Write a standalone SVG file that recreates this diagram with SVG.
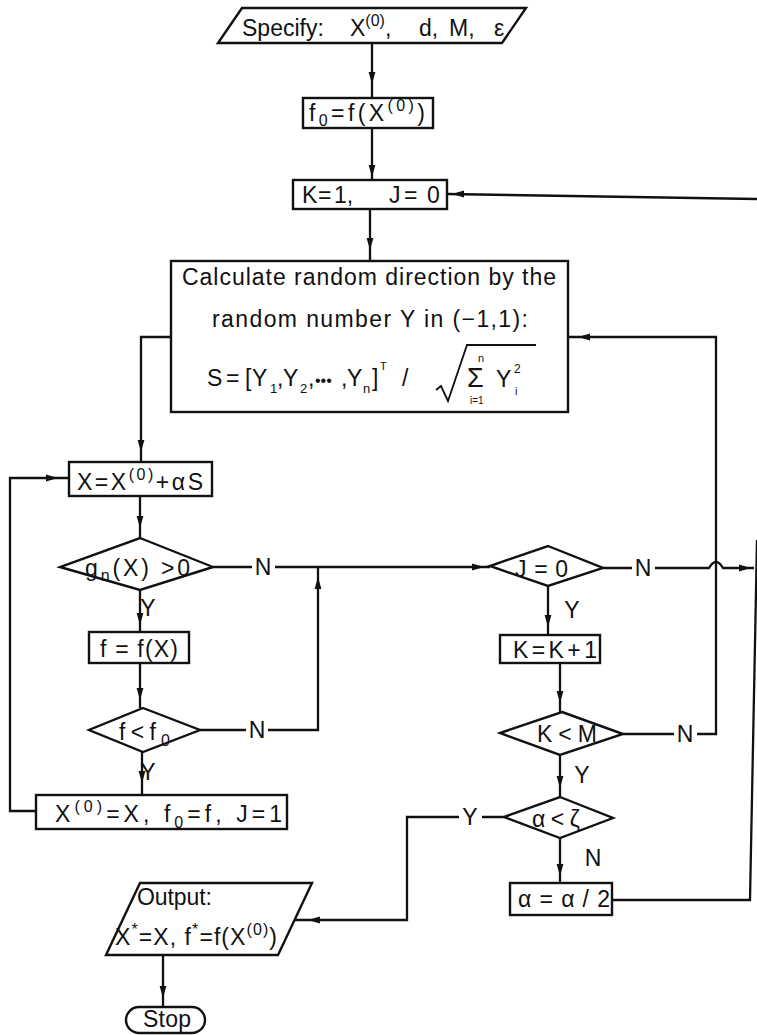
<svg xmlns="http://www.w3.org/2000/svg" width="757" height="1035" viewBox="0 0 757 1035">
<style>
.n{fill:#fff;stroke:#111;stroke-width:2.4;stroke-linejoin:miter}
.c{fill:none;stroke:#111;stroke-width:2.3}
text{font-family:"Liberation Sans",Arial,sans-serif;font-size:23px;fill:#111}
.s{font-size:16px}
.m{text-anchor:middle}
.ah{fill:#111}
</style>
<defs>
<path id="ah" d="M0,0 L-12,-3.4 L-12,3.4 Z"/>
</defs>
<rect width="757" height="1035" fill="#fff"/>

<g id="connectors">
<path class="c" d="M372,43 V98"/>
<path class="c" d="M372,128 V180"/>
<path class="c" d="M370,209 V261"/>
<path class="c" d="M172,337 H141 V462"/>
<path class="c" d="M140,496 V538"/>
<path class="c" d="M140,590 V632"/>
<path class="c" d="M140,663 V708"/>
<path class="c" d="M142,752 V795"/>
<path class="c" d="M36,811 H10 V478 H69"/>
<path class="c" d="M213,567 H252 M275,567 H490"/>
<path class="c" d="M200,730 H246 M268,730 H318 V567"/>
<path class="c" d="M603,568 H632 M655,568 H709 Q716,556 723,568 H754"/>
<path class="c" d="M548,586 V635"/>
<path class="c" d="M560,663 V712"/>
<path class="c" d="M560,755 V797"/>
<path class="c" d="M560,838 V883"/>
<path class="c" d="M623,734 H674 M697,734 H716 V337 H568"/>
<path class="c" d="M504,817 H482 M459,817 H407 V920 H295"/>
<path class="c" d="M612,900 H750 L757,540"/>
<path class="c" d="M757,199 L447,194"/>
<path class="c" d="M163,955 V1007"/>
<use href="#ah" class="ah" transform="translate(372,84) rotate(90)"/>
<use href="#ah" class="ah" transform="translate(372,177) rotate(90)"/>
<use href="#ah" class="ah" transform="translate(370,250) rotate(90)"/>
<use href="#ah" class="ah" transform="translate(141,452) rotate(90)"/>
<use href="#ah" class="ah" transform="translate(58,478)"/>
<use href="#ah" class="ah" transform="translate(140,528) rotate(90)"/>
<use href="#ah" class="ah" transform="translate(140,625) rotate(90)"/>
<use href="#ah" class="ah" transform="translate(140,700) rotate(90)"/>
<use href="#ah" class="ah" transform="translate(142,783) rotate(90)"/>
<use href="#ah" class="ah" transform="translate(318,577) rotate(-90)"/>
<use href="#ah" class="ah" transform="translate(484,567)"/>
<use href="#ah" class="ah" transform="translate(548,627) rotate(90)"/>
<use href="#ah" class="ah" transform="translate(560,703) rotate(90)"/>
<use href="#ah" class="ah" transform="translate(560,788) rotate(90)"/>
<use href="#ah" class="ah" transform="translate(560,876) rotate(90)"/>
<use href="#ah" class="ah" transform="translate(578,337) rotate(180)"/>
<use href="#ah" class="ah" transform="translate(751,568)"/>
<use href="#ah" class="ah" transform="translate(452,194) rotate(180)"/>
<use href="#ah" class="ah" transform="translate(308,920) rotate(180)"/>
<use href="#ah" class="ah" transform="translate(163,998) rotate(90)"/>
</g>

<g id="labels">
<text class="m" x="263" y="575">N</text>
<text class="m" x="257" y="738">N</text>
<text class="m" x="148" y="616">Y</text>
<text class="m" x="148" y="780">Y</text>
<text class="m" x="643" y="576">N</text>
<text class="m" x="572" y="618">Y</text>
<text class="m" x="685" y="742">N</text>
<text class="m" x="582" y="783">Y</text>
<text class="m" x="470" y="825">Y</text>
<text class="m" x="593" y="866">N</text>
</g>

<g id="specify">
<polygon class="n" points="242,8 526,8 502,43 218,43"/>
<text y="36"><tspan x="242">Specify:</tspan><tspan x="350">X</tspan><tspan class="s" dy="-10">(0)</tspan><tspan dy="10">,</tspan><tspan x="419">d,</tspan><tspan x="449">M,</tspan><tspan x="494">ε</tspan></text>
</g>

<g id="f0">
<rect class="n" x="303" y="98" width="130" height="30"/>
<text x="309" y="121" textLength="116" lengthAdjust="spacing">f<tspan class="s" dy="5">0</tspan><tspan dy="-5">=f(X</tspan><tspan class="s" dy="-10">(0)</tspan><tspan dy="10">)</tspan></text>
</g>

<g id="init">
<rect class="n" x="293" y="180" width="154" height="29"/>
<text y="203"><tspan x="302">K</tspan><tspan x="318">=</tspan><tspan x="334">1,</tspan><tspan x="389">J</tspan><tspan x="404">=</tspan><tspan x="427">0</tspan></text>
</g>

<g id="calc">
<rect class="n" x="171" y="261" width="397" height="151"/>
<text x="182" y="285" textLength="374" lengthAdjust="spacing">Calculate random direction by the</text>
<text x="212" y="327" textLength="316" lengthAdjust="spacing">random number Y in (−1,1):</text>
<text y="386"><tspan x="207">S</tspan><tspan x="226">=</tspan><tspan x="245">[</tspan><tspan x="252">Y</tspan></text>
<text x="270" y="393" style="font-size:13px">1</text>
<text x="277" y="386">,</text>
<text x="283" y="386">Y</text>
<text x="300" y="393" style="font-size:13px">2</text>
<text x="308" y="386">,</text>
<text x="315" y="386" style="font-size:16px">•••</text>
<text x="341" y="386">,</text>
<text x="347" y="386">Y</text>
<text x="363" y="393" style="font-size:13px">n</text>
<text x="372" y="386">]</text>
<text x="380" y="370" style="font-size:11px">T</text>
<text x="402" y="386">/</text>
<path d="M436,390 L441,386 L448,401 L467,345 H536" fill="none" stroke="#111" stroke-width="1.8"/>
<text x="478" y="362" style="font-size:11px">n</text>
<text x="467" y="387" style="font-size:27px">Σ</text>
<text x="470" y="404" style="font-size:10px">i=1</text>
<text x="496" y="387">Y</text>
<text x="514" y="373" style="font-size:12px">2</text>
<text x="515" y="395" style="font-size:11px">i</text>
</g>

<g id="xstep">
<rect class="n" x="69" y="462" width="143" height="34"/>
<text x="77" y="490" textLength="126" lengthAdjust="spacing">X=X<tspan class="s" dy="-10">(0)</tspan><tspan dy="10">+αS</tspan></text>
</g>

<g id="gcheck">
<polygon class="n" points="140,538 213,567 140,590 60,567"/>
<text x="85" y="576" textLength="105" lengthAdjust="spacing">g<tspan class="s" dy="5">n</tspan><tspan dy="-5">(X) &gt;0</tspan></text>
</g>

<g id="feval">
<rect class="n" x="89" y="632" width="100" height="31"/>
<text x="100" y="657" textLength="78" lengthAdjust="spacing">f = f(X)</text>
</g>

<g id="fcheck">
<polygon class="n" points="143,708 200,730 143,752 89,730"/>
<text x="119" y="740" textLength="51" lengthAdjust="spacing">f&lt;f<tspan class="s" dy="6">0</tspan></text>
</g>

<g id="update">
<rect class="n" x="36" y="795" width="251" height="34"/>
<text x="55" y="822" textLength="227" lengthAdjust="spacing">X<tspan class="s" dy="-10">(0)</tspan><tspan dy="10">=X,  f</tspan><tspan class="s" dy="6">0</tspan><tspan dy="-6">=f,  J=1</tspan></text>
</g>

<g id="jcheck">
<polygon class="n" points="548,546 603,568 548,586 490,566"/>
<text x="515" y="577" textLength="53" lengthAdjust="spacing">J=0</text>
</g>

<g id="kinc">
<rect class="n" x="500" y="635" width="100" height="28"/>
<text x="513" y="658" textLength="84" lengthAdjust="spacing">K=K+1</text>
</g>

<g id="kcheck">
<polygon class="n" points="562,712 623,734 560,755 500,733"/>
<text x="537" y="742" textLength="60" lengthAdjust="spacing">K&lt;M</text>
</g>

<g id="acheck">
<polygon class="n" points="560,797 613,818 560,838 504,817"/>
<text x="532" y="827" textLength="48" lengthAdjust="spacing">α&lt;ζ</text>
</g>

<g id="ahalf">
<rect class="n" x="510" y="883" width="102" height="32"/>
<text x="518" y="907" textLength="92" lengthAdjust="spacing">α = α / 2</text>
</g>

<g id="output">
<polygon class="n" points="140,883 312,883 278,955 106,955"/>
<text x="137" y="905" textLength="75" lengthAdjust="spacing">Output:</text>
<text x="115" y="945" textLength="162" lengthAdjust="spacing">X<tspan class="s" dy="-10">*</tspan><tspan dy="10">=X,  f</tspan><tspan class="s" dy="-10">*</tspan><tspan dy="10">=f(X</tspan><tspan class="s" dy="-10">(0)</tspan><tspan dy="10">)</tspan></text>
</g>

<g id="stop">
<rect class="n" x="126" y="1007" width="79" height="26" rx="13"/>
<text x="143" y="1027" textLength="48" lengthAdjust="spacing">Stop</text>
</g>
</svg>
